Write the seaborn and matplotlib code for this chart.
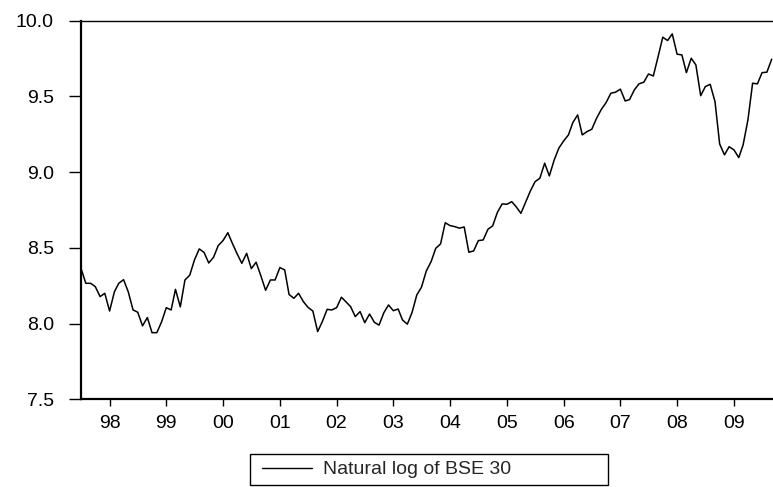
import numpy as np
import pandas as pd
import matplotlib
matplotlib.use("Agg")
import matplotlib.pyplot as plt
from matplotlib.patches import Rectangle
import seaborn as sns

# ---- data (monthly, Jul 1997 - Sep 2009) ----
start_month = "1997-07-01"
log_bse30 = [
    8.365, 8.266, 8.266, 8.244, 8.178, 8.200, 8.083, 8.210, 8.266, 8.290,
    8.210, 8.090, 8.075, 7.985, 8.040, 7.940, 7.940, 8.010, 8.105, 8.090,
    8.226, 8.110, 8.288, 8.320, 8.420, 8.493, 8.470, 8.400, 8.438, 8.515,
    8.548, 8.600, 8.530, 8.460, 8.398, 8.464, 8.363, 8.405, 8.314, 8.220,
    8.288, 8.288, 8.370, 8.354, 8.192, 8.167, 8.200, 8.145, 8.107, 8.083,
    7.947, 8.013, 8.094, 8.090, 8.105, 8.174, 8.145, 8.112, 8.046, 8.079,
    8.006, 8.063, 8.008, 7.990, 8.072, 8.123, 8.085, 8.096, 8.024, 7.996,
    8.072, 8.189, 8.240, 8.347, 8.409, 8.497, 8.526, 8.666, 8.647, 8.640,
    8.630, 8.638, 8.471, 8.480, 8.548, 8.552, 8.623, 8.645, 8.735, 8.790,
    8.788, 8.805, 8.772, 8.728, 8.800, 8.876, 8.937, 8.960, 9.059, 8.975,
    9.080, 9.158, 9.206, 9.246, 9.327, 9.378, 9.246, 9.268, 9.283, 9.356,
    9.415, 9.459, 9.521, 9.528, 9.548, 9.470, 9.479, 9.543, 9.583, 9.594,
    9.648, 9.635, 9.763, 9.891, 9.869, 9.913, 9.779, 9.774, 9.657, 9.752,
    9.708, 9.505, 9.565, 9.580, 9.466, 9.186, 9.114, 9.168, 9.147, 9.096,
    9.180, 9.345, 9.587, 9.583, 9.657, 9.660, 9.746,
]
series_label = "Natural log of BSE 30"
year_labels = ["98", "99", "00", "01", "02", "03", "04", "05", "06", "07", "08", "09"]
y_ticks = [7.5, 8.0, 8.5, 9.0, 9.5, 10.0]

dates = pd.date_range(start_month, periods=len(log_bse30), freq="MS")
df = pd.DataFrame({"date": dates, "value": log_bse30})

# ---- style ----
sns.set_theme(style="ticks")
plt.rcParams["font.family"] = ["Liberation Sans", "DejaVu Sans"]

W, H = 773, 487
fig = plt.figure(figsize=(W / 100, H / 100), dpi=100)
left_px, right_px, top_px, bottom_px = 81.0, 778.7, 20.7, 399.3
ax = fig.add_axes([left_px / W, 1 - bottom_px / H, (right_px - left_px) / W, (bottom_px - top_px) / H])

sns.lineplot(data=df, x="date", y="value", ax=ax, color="black", linewidth=1.1,
             label=series_label, legend=False)

ax.set_xlim(pd.Timestamp(start_month), pd.Timestamp("2009-10-16"))
ax.set_ylim(7.5, 10.0)
ax.set_xlabel("")
ax.set_ylabel("")

year_ticks = [pd.Timestamp(f"{1998 + i}-01-01") for i in range(len(year_labels))]
ax.set_xticks(year_ticks)
ax.set_xticklabels(year_labels)
ax.set_yticks(y_ticks)
ax.set_yticklabels([f"{v:.1f}" for v in y_ticks])

ax.tick_params(axis="x", direction="out", length=5, width=1.0, pad=6, labelsize=14, colors="black")
ax.tick_params(axis="y", direction="out", length=8.5, width=1.0, pad=11, labelsize=14, colors="black")

for s in ["left", "bottom"]:
    ax.spines[s].set_linewidth(1.6)
    ax.spines[s].set_color("black")
ax.spines["top"].set_linewidth(1.0)
ax.spines["top"].set_color("black")
ax.spines["right"].set_visible(False)

# ---- legend (EViews-style fixed-width box) ----
fig.patches.append(Rectangle((250 / W, 1 - 485 / H), 358 / W, 31 / H,
                             transform=fig.transFigure, fill=False,
                             edgecolor="black", linewidth=1.0))
handles, labels = ax.get_legend_handles_labels()
leg = fig.legend(handles, labels, loc="center left",
                 bbox_to_anchor=(262 / W, 1 - 469.5 / H),
                 borderaxespad=0, borderpad=0, frameon=False,
                 fontsize=14, handlelength=2.55, handletextpad=0.6)
for line in leg.get_lines():
    line.set_linewidth(1.0)

fig.savefig("out.png", dpi=100, facecolor="white")
